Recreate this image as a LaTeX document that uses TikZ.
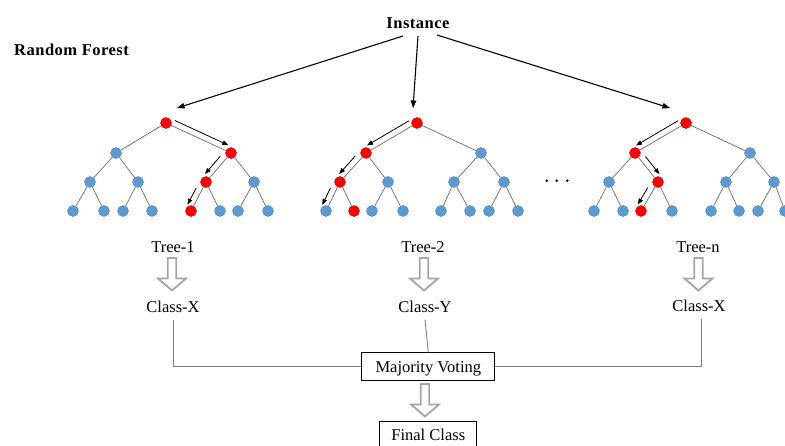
\documentclass[tikz,border=0pt]{standalone}
\usepackage{fontspec}
\setmainfont{Liberation Serif}
\usetikzlibrary{arrows.meta,calc}
\definecolor{nodeblue}{HTML}{5B9BD5}
\definecolor{nodered}{HTML}{FF0000}
\definecolor{edgegray}{HTML}{6E6E6E}
\definecolor{conngray}{HTML}{808080}
\definecolor{hollowgray}{HTML}{A6A6A6}
\newcommand\walkarrow[5]{\draw[walk] ($(#1)!#4!(#2)!6pt!#3:(#2)$) -- ($(#1)!#5!(#2)!6pt!#3:(#2)$);}
\begin{document}
\begin{tikzpicture}[x=1pt,y=-1pt,
  tn/.style={circle, inner sep=0pt, minimum size=11pt, line width=0.4pt},
  edge/.style={draw=edgegray, line width=0.7pt},
  walk/.style={-{Triangle[length=6pt,width=4.5pt]}, line width=0.8pt, black},
  pointer/.style={-{Triangle[length=7.5pt,width=5.5pt]}, line width=1.1pt, black},
  lbl/.style={font=\fontsize{16.5}{19}\selectfont, inner sep=1pt, text height=11pt, text depth=4pt},
  heading/.style={font=\fontsize{16.5}{19}\selectfont\bfseries\addfontfeature{LetterSpace=3}, inner sep=1pt},
  conn/.style={draw=conngray, line width=0.9pt},
  box/.style={draw=black, line width=0.8pt, fill=white, font=\fontsize{16.5}{19}\selectfont, text height=11pt, text depth=0pt, minimum height=28pt, inner sep=0pt},
  hollow/.style={draw=hollowgray, line width=1.8pt, fill=white, line join=miter},
  hollowarrow/.pic={\draw[hollow] (-4.2,0) -- (4.2,0) -- (4.2,20.5) -- (14,20.5) -- (0,32.5) -- (-14,20.5) -- (-4.2,20.5) -- cycle;},
  dot/.style={circle, fill=black, inner sep=0pt, minimum size=2.8pt}
]
\useasboundingbox (0,0) rectangle (785,445);

% headings
\node[heading, anchor=base west] (rf) at (13,55.5) {Random Forest};
\node[heading, anchor=base] (inst) at (418,28.5) {Instance};

% tree nodes
\foreach \n/\x/\y/\c in {
  A0/166/123/nodered, A1/116/153/nodeblue, A2/231/153/nodered,
  A11/90/182/nodeblue, A12/138/182/nodeblue, A21/206/182/nodered, A22/254/182/nodeblue,
  A111/73/211/nodeblue, A112/104/211/nodeblue, A121/123/211/nodeblue, A122/152/211/nodeblue,
  A211/191/211/nodered, A212/220/211/nodeblue, A221/238/211/nodeblue, A222/268/211/nodeblue,
  B0/417/123/nodered, B1/366/153/nodered, B2/481/153/nodeblue,
  B11/340/182/nodered, B12/388/182/nodeblue, B21/454/182/nodeblue, B22/504/182/nodeblue,
  B111/326/211/nodeblue, B112/354/211/nodered, B121/372/211/nodeblue, B122/403/211/nodeblue,
  B211/441/211/nodeblue, B212/470/211/nodeblue, B221/489/211/nodeblue, B222/518/211/nodeblue,
  C0/686/123/nodered, C1/635/153/nodered, C2/750/153/nodeblue,
  C11/609/182/nodeblue, C12/658/182/nodered, C21/726/182/nodeblue, C22/774/182/nodeblue,
  C111/594/211/nodeblue, C112/623/211/nodeblue, C121/641/211/nodered, C122/672/211/nodeblue,
  C211/711/211/nodeblue, C212/739/211/nodeblue, C221/758/211/nodeblue, C222/785/211/nodeblue}
  \node[tn, fill=\c, draw=\c!85!black] (\n) at (\x,\y) {};

% tree edges
\foreach \t in {A,B,C}{
  \foreach \p/\q in {0/1,0/2,1/11,1/12,2/21,2/22,11/111,11/112,12/121,12/122,21/211,21/212,22/221,22/222}{
    \draw[edge] (\t\p) -- (\t\q);
  }
}

% traversal arrows
\walkarrow{A0}{A2}{90}{0.1}{0.92}
\walkarrow{A2}{A21}{-90}{0.25}{0.86}
\walkarrow{A21}{A211}{-90}{0.3}{0.88}
\walkarrow{B0}{B1}{-90}{0.1}{0.92}
\walkarrow{B1}{B11}{-90}{0.25}{0.86}
\walkarrow{B11}{B111}{-90}{0.3}{0.88}
\walkarrow{C0}{C1}{-90}{0.1}{0.92}
\walkarrow{C1}{C12}{90}{0.25}{0.86}
\walkarrow{C12}{C121}{-90}{0.3}{0.88}

% ellipsis
\node[dot] (d1) at (546.7,180.7) {};
\node[dot] (d2) at (556.7,180.7) {};
\node[dot] (d3) at (567.3,180.7) {};

% instance arrows
\coordinate (e1) at (177,108);
\coordinate (e2) at (413,108);
\coordinate (e3) at (670,108);
\draw[pointer] ([shift={(-15,7.5)}]inst.base) -- (e1);
\draw[pointer] ([shift={(0,7.5)}]inst.base) -- (e2);
\draw[pointer] ([shift={(19,6.5)}]inst.base) -- (e3);

% tree labels
\node[lbl, anchor=base] (t1) at (173,252.5) {Tree-1};
\node[lbl, anchor=base] (t2) at (423,252.5) {Tree-2};
\node[lbl, anchor=base] (t3) at (698,252.5) {Tree-n};

% hollow arrows
\pic at (172,258) {hollowarrow};
\pic at (424,258) {hollowarrow};
\pic at (698.5,258) {hollowarrow};

% class labels
\node[lbl, anchor=base] (cx1) at (173,312.5) {Class-X};
\node[lbl, anchor=base] (cy) at (425,312.5) {Class-Y};
\node[lbl, anchor=base] (cx3) at (699,311.5) {Class-X};

% majority voting
\node[box, minimum width=133pt] (mv) at (428.3,366.7) {Majority Voting};
\draw[conn] ([yshift=-2pt]cx1.south) |- (mv.west);
\draw[conn] ([yshift=-2pt]cy.south) -- (mv.north);
\draw[conn] ([shift={(2.5,-2pt)}]cx3.south) |- (mv.east);

\pic at (425,384) {hollowarrow};

\node[box, minimum width=97pt] (fc) at (428.3,435) {Final Class};
\end{tikzpicture}
\end{document}
